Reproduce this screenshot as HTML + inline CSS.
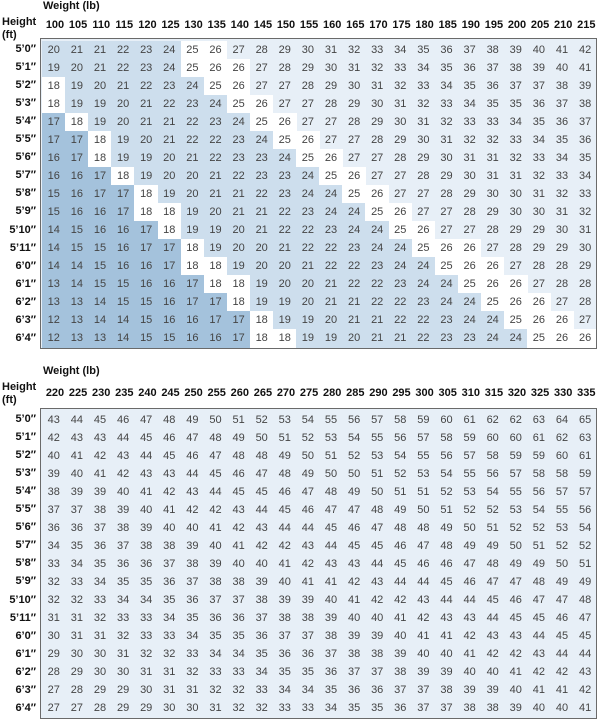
<!DOCTYPE html>
<html><head><meta charset="utf-8"><style>
body{margin:0;width:600px;height:725px;background:#fff;font-family:"Liberation Sans",sans-serif;position:relative;overflow:hidden}
.a{position:absolute}
.t{font-size:11px;font-weight:bold;color:#111}
.box{position:absolute;border:1.5px solid #6a6a6a;box-sizing:border-box;overflow:hidden}
.c{position:absolute;font-size:11px;color:#444;text-align:center}
.h{position:absolute;font-size:11px;font-weight:bold;color:#111;text-align:center;width:30px}
.r{position:absolute;font-size:11px;font-weight:bold;color:#111;text-align:right;width:36px;left:0}
</style></head><body>
<div class="a t" style="left:43px;top:0px">Weight (lb)</div>
<div class="a t" style="left:2px;top:16px;line-height:13px">Height<br>(ft)</div>
<div class="a t" style="left:43px;top:365px">Weight (lb)</div>
<div class="a t" style="left:2px;top:381px;line-height:13px">Height<br>(ft)</div>
<div class="box" id="b1" style="left:40px;top:38px;width:557px;height:311px;background:#e7eff7"></div>
<div class="box" id="b2" style="left:40px;top:408px;width:557px;height:311px;background:#e7eff7"></div>
<script>
const hts=["5'0\u2033","5'1\u2033","5'2\u2033","5'3\u2033","5'4\u2033","5'5\u2033","5'6\u2033","5'7\u2033","5'8\u2033","5'9\u2033","5'10\u2033","5'11\u2033","6'0\u2033","6'1\u2033","6'2\u2033","6'3\u2033","6'4\u2033"];
function build(boxId,w0,hy,top,shade){
  const box=document.getElementById(boxId);
  const cw=23.1,rh=18.05;
  for(let j=0;j<24;j++){
    const w=w0+5*j;
    const h=document.createElement('div');h.className='h';h.textContent=w;
    h.style.left=(55+j*cw-15)+'px';h.style.top=hy+'px';document.body.appendChild(h);
  }
  for(let i=0;i<17;i++){
    const r=document.createElement('div');r.className='r';r.textContent=hts[i].replace("'","\u2019");
    r.style.top=(top+i*rh+3)+'px';document.body.appendChild(r);
    const inch=60+i;
    for(let j=0;j<24;j++){
      const w=w0+5*j;const v=Math.round(703*w/(inch*inch));
      const c=document.createElement('div');c.className='c';c.textContent=v;
      let bg='transparent';
      if(shade){ if(v<=17)bg='#a4c2dc'; else if(v==18||v==25||v==26)bg='#fff'; else if(v<=24)bg='#cddeed'; }
      c.style.background=bg;
      c.style.left=(j*cw+1)+'px';c.style.top=(i*rh+1.5)+'px';
      c.style.width=(cw+0.5)+'px';c.style.height=(rh+0.5)+'px';c.style.lineHeight=rh+'px';
      box.appendChild(c);
    }
  }
}
build('b1',100,19,40,true);
build('b2',220,387,410,false);
</script>
</body></html>
